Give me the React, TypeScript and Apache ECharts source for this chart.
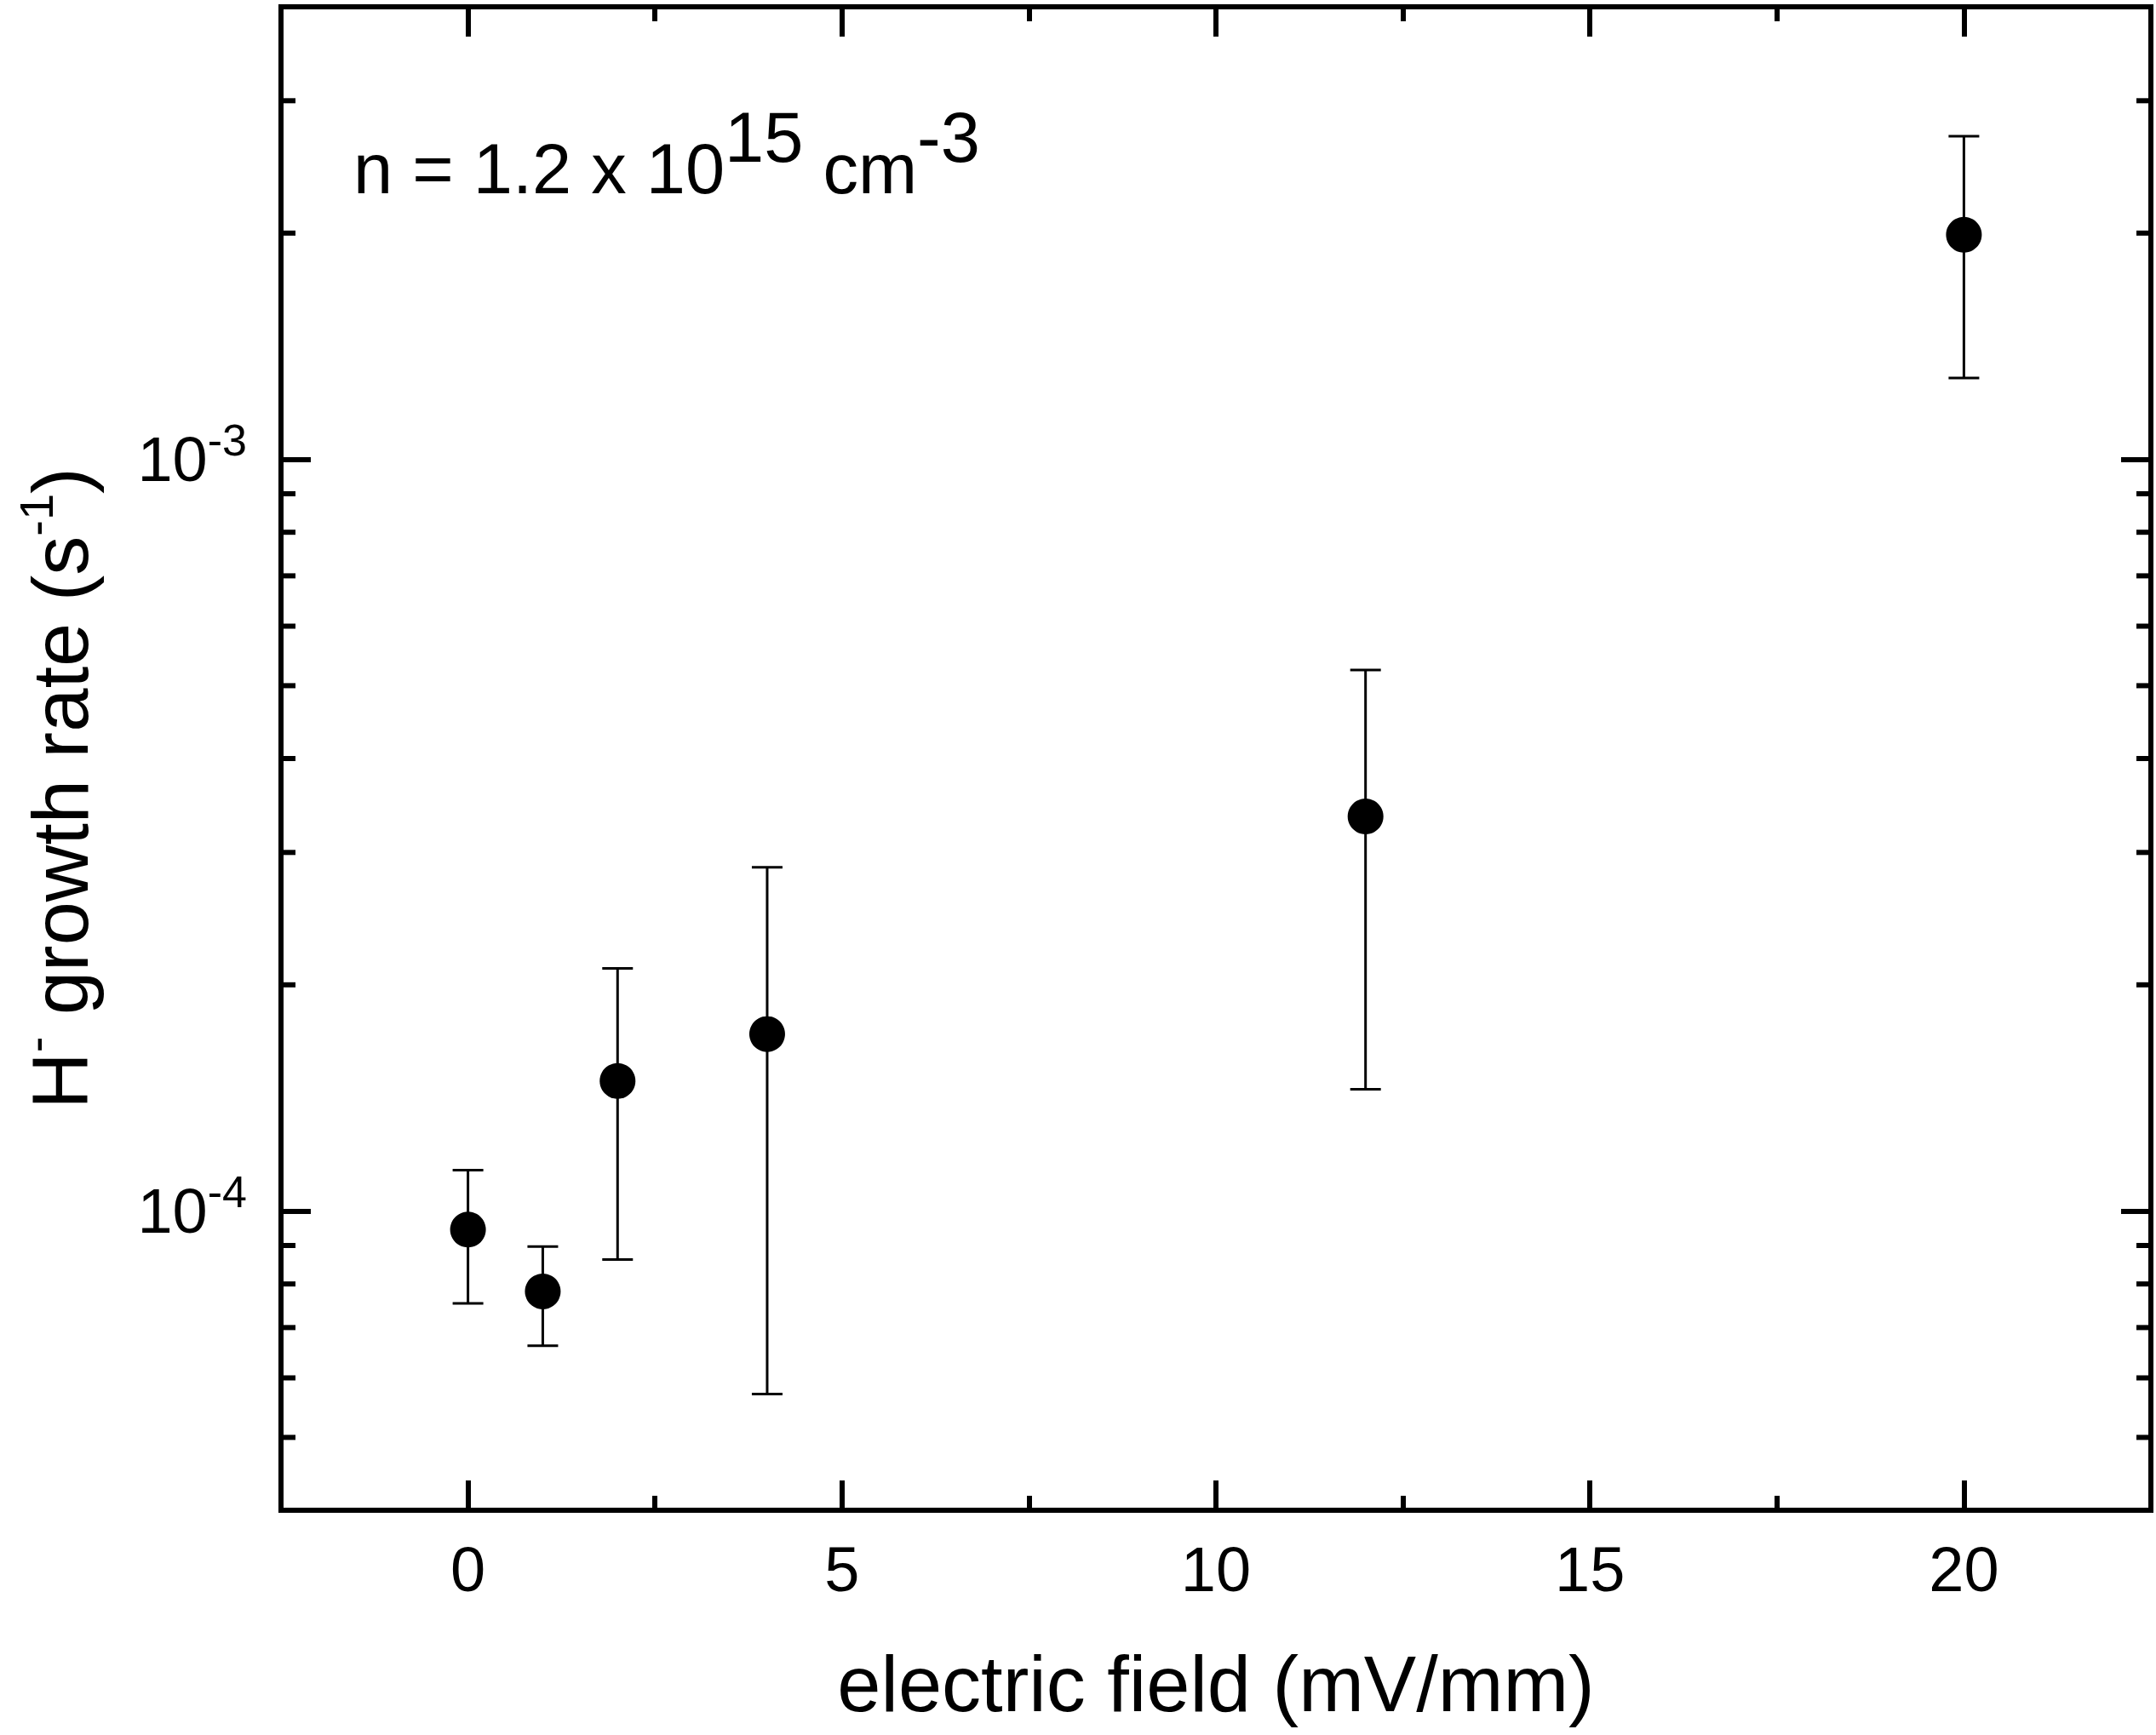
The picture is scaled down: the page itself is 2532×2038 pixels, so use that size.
import React, { useEffect, useRef } from 'react';
import * as echarts from 'echarts';

// ---- data ----
const fieldValues = [0, 1, 2, 4, 12, 20]; // mV/mm
const growthRates = [9.45e-5, 7.82e-5, 1.49e-4, 1.72e-4, 3.35e-4, 1.99e-3]; // s^-1
const errorLow = [7.54e-5, 6.62e-5, 8.62e-5, 5.71e-5, 1.452e-4, 1.283e-3];
const errorHigh = [1.134e-4, 8.97e-5, 2.103e-4, 2.866e-4, 5.245e-4, 2.691e-3];

// ---- axes ----
const xRange = [-2.5, 22.5];
const yRange = [4e-5, 4e-3];
const xTickLabels = ['0', '5', '10', '15', '20'];
const yMajorTickLabels = ['10-4', '10-3'];
const yMinorTicks = [
  5e-5, 6e-5, 7e-5, 8e-5, 9e-5,
  2e-4, 3e-4, 4e-4, 5e-4, 6e-4, 7e-4, 8e-4, 9e-4,
  2e-3, 3e-3,
];

const xTitle = 'electric field (mV/mm)';
const yTitleRich = '{b|H}{s|-}{b| growth rate (s}{s|-1}{b|)}';
const annotationRich = '{b|n = 1.2 x 10}{s|15}{b| cm}{s|-3}';

const FONT = 'Liberation Sans, Arial, Helvetica, sans-serif';
const BLACK = '#000000';

function buildOption(): any {
  const yLabelFormatter = (v: number) => {
    const l = Math.log10(v);
    const e = Math.round(l);
    if (Math.abs(l - e) > 1e-6) return '';
    const label = yMajorTickLabels.find((t) => t === '10' + e);
    if (!label) return '';
    return `{b|10}{s|${label.slice(2)}}`;
  };
  const xLabelFormatter = (v: number) => {
    const s = String(Math.round(v * 1000) / 1000);
    return xTickLabels.includes(s) ? s : '';
  };

  const tickStyle = { color: BLACK, width: 6 };

  return {
    animation: false,
    backgroundColor: '#ffffff',
    textStyle: { fontFamily: FONT, color: BLACK },
    grid: {
      left: 330,
      top: 8,
      right: 6,
      bottom: 264,
      show: true,
      borderColor: BLACK,
      borderWidth: 6,
      backgroundColor: 'transparent',
      containLabel: false,
      outerBoundsMode: 'none',
    },
    xAxis: [
      {
        type: 'value',
        position: 'bottom',
        min: xRange[0],
        max: xRange[1],
        splitNumber: 5,
        splitLine: { show: false },
        axisLine: { show: false, onZero: false },
        axisTick: { show: true, inside: true, length: 35, lineStyle: tickStyle },
        minorTick: { show: true, splitNumber: 2, length: 17, lineStyle: tickStyle },
        minorSplitLine: { show: false },
        axisLabel: {
          show: true,
          formatter: xLabelFormatter,
          fontSize: 74,
          lineHeight: 74,
          color: BLACK,
          fontFamily: FONT,
          margin: 32,
        },
        name: xTitle,
        nameLocation: 'middle',
        nameGap: 158,
        nameTextStyle: { fontSize: 92, lineHeight: 92, color: BLACK, fontFamily: FONT },
      },
      {
        type: 'value',
        position: 'top',
        min: xRange[0],
        max: xRange[1],
        splitNumber: 5,
        splitLine: { show: false },
        axisLine: { show: false, onZero: false },
        axisTick: { show: true, inside: true, length: 35, lineStyle: tickStyle },
        minorTick: { show: true, splitNumber: 2, length: 17, lineStyle: tickStyle },
        minorSplitLine: { show: false },
        axisLabel: { show: false },
      },
    ],
    yAxis: [
      {
        type: 'log',
        logBase: 10,
        position: 'left',
        min: yRange[0],
        max: yRange[1],
        splitLine: { show: false },
        axisLine: { show: false, onZero: false },
        axisTick: { show: true, inside: true, length: 35, lineStyle: tickStyle },
        axisLabel: {
          show: true,
          formatter: yLabelFormatter,
          margin: 40,
          color: BLACK,
          fontFamily: FONT,
          rich: {
            b: { fontSize: 74, lineHeight: 100, color: BLACK, fontFamily: FONT },
            s: { fontSize: 52, lineHeight: 100, color: BLACK, fontFamily: FONT, padding: [0, 0, 46, 0] },
          },
        },
        name: yTitleRich,
        nameLocation: 'middle',
        nameGap: 199,
        nameTextStyle: {
          color: BLACK,
          fontFamily: FONT,
          padding: [0, 70, 0, 0],
          rich: {
            b: { fontSize: 92, lineHeight: 120, color: BLACK, fontFamily: FONT },
            s: { fontSize: 56, lineHeight: 120, color: BLACK, fontFamily: FONT, padding: [0, 0, 58, 0] },
          },
        },
      },
      {
        type: 'log',
        logBase: 10,
        position: 'right',
        min: yRange[0],
        max: yRange[1],
        splitLine: { show: false },
        axisLine: { show: false, onZero: false },
        axisTick: { show: true, inside: true, length: 35, lineStyle: tickStyle },
        axisLabel: { show: false },
      },
    ],
    graphic: [
      {
        type: 'text',
        x: 415,
        y: 198,
        silent: true,
        style: {
          text: annotationRich,
          align: 'left',
          verticalAlign: 'middle',
          fill: BLACK,
          fontFamily: FONT,
          rich: {
            b: { fontSize: 83, lineHeight: 100, fill: BLACK, fontFamily: FONT },
            s: { fontSize: 83, lineHeight: 100, fill: BLACK, fontFamily: FONT, padding: [0, 0, 74, 0] },
          },
        },
      },
    ],
    series: [
      {
        type: 'custom',
        name: 'minorTicksY',
        xAxisIndex: 0,
        yAxisIndex: 0,
        silent: true,
        clip: false,
        z: 5,
        data: yMinorTicks.map((v) => [fieldValues[0], v]),
        encode: { x: 0, y: 1 },
        renderItem: (params: any, api: any) => {
          const cs = params.coordSys;
          const y = api.coord([api.value(0), api.value(1)])[1];
          const st = { stroke: BLACK, lineWidth: 6 };
          return {
            type: 'group',
            children: [
              { type: 'line', shape: { x1: cs.x, y1: y, x2: cs.x + 17, y2: y }, style: st },
              { type: 'line', shape: { x1: cs.x + cs.width - 17, y1: y, x2: cs.x + cs.width, y2: y }, style: st },
            ],
          };
        },
      },
      {
        type: 'custom',
        name: 'errorBars',
        xAxisIndex: 0,
        yAxisIndex: 0,
        silent: true,
        z: 3,
        data: fieldValues.map((x, i) => [x, errorLow[i], errorHigh[i]]),
        encode: { x: 0, y: [1, 2] },
        renderItem: (params: any, api: any) => {
          const x = api.value(0);
          const pLo = api.coord([x, api.value(1)]);
          const pHi = api.coord([x, api.value(2)]);
          const cap = 18;
          const st = { stroke: BLACK, lineWidth: 3 };
          return {
            type: 'group',
            children: [
              { type: 'line', shape: { x1: pLo[0], y1: pLo[1], x2: pHi[0], y2: pHi[1] }, style: st },
              { type: 'line', shape: { x1: pLo[0] - cap, y1: pLo[1], x2: pLo[0] + cap, y2: pLo[1] }, style: st },
              { type: 'line', shape: { x1: pHi[0] - cap, y1: pHi[1], x2: pHi[0] + cap, y2: pHi[1] }, style: st },
            ],
          };
        },
      },
      {
        type: 'scatter',
        name: 'growth rate',
        xAxisIndex: 0,
        yAxisIndex: 0,
        z: 4,
        symbol: 'circle',
        symbolSize: 42,
        itemStyle: { color: BLACK, opacity: 1 },
        emphasis: { disabled: true },
        data: fieldValues.map((x, i) => [x, growthRates[i]]),
      },
    ],
  };
}

export default function App() {
  const ref = useRef<HTMLDivElement>(null);
  useEffect(() => {
    if (!ref.current) return;
    const chart = echarts.init(ref.current, null, { renderer: 'svg' });
    chart.setOption(buildOption());
    return () => chart.dispose();
  }, []);
  return (
    <div
      ref={ref}
      style={{ position: 'fixed', left: 0, top: 0, width: 2532, height: 2038, background: '#ffffff' }}
    />
  );
}
